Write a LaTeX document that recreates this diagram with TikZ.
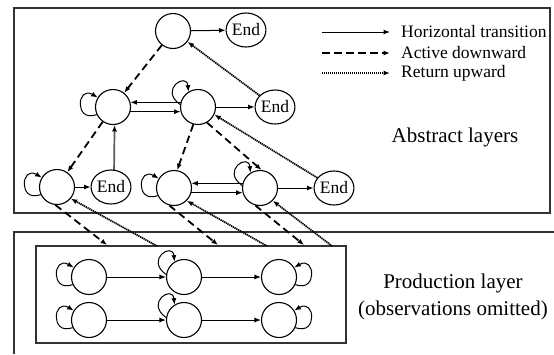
\documentclass[tikz,border=0pt]{standalone}
\usepackage{fontspec}
\setmainfont{Liberation Serif}
\usetikzlibrary{arrows.meta,shapes.geometric}

\begin{document}
\begin{tikzpicture}[
  x=1pt,y=1pt,
  state/.style={circle,draw,line width=1.1pt,minimum size=35pt,inner sep=0pt},
  endst/.style={ellipse,draw,line width=1.1pt,minimum width=38pt,minimum height=34pt,
                inner sep=0pt,font=\fontsize{17.5}{17.5}\selectfont},
  tip/.style={-{Latex[length=6.5pt,width=5pt]}},
  hor/.style={tip,line width=1pt},
  down/.style={tip,line width=1.8pt,dash pattern=on 7.5pt off 4.5pt},
  up/.style={tip,line width=1.7pt,dash pattern=on 1.3pt off 0.7pt},
  frame/.style={line width=1.2pt,draw=black!80},
  legtext/.style={anchor=west,inner sep=0pt,font=\fontsize{17.5}{20}\selectfont},
  biglabel/.style={align=center,inner sep=0pt,font=\fontsize{21}{27}\selectfont},
]
\useasboundingbox (0,0) rectangle (554,-354);

% layer frames
\draw[frame] (14,-8) rectangle (550,-213);
\draw[frame] (554,-232) -- (14,-232) -- (14,-354);
\draw[frame] (36,-246) rectangle (346,-343);

% legend
\coordinate (l1a) at (322,-32); \coordinate (l1b) at (390,-32);
\coordinate (l2a) at (322,-53); \coordinate (l2b) at (390,-53);
\coordinate (l3a) at (322,-73); \coordinate (l3b) at (390,-73);
\draw[hor] (l1a) -- (l1b);
\draw[down] (l2a) -- (l2b);
\draw[up] (l3a) -- (l3b);
\node[legtext] (t1) at (401,-32) {Horizontal transition};
\node[legtext] (t2) at (401,-53) {Active downward};
\node[legtext] (t3) at (401,-73) {Return upward};

\node[biglabel] (abs) at (455,-137) {Abstract layers};
\node[biglabel] (prod) at (453,-297) {Production layer\\(observations omitted)};

% abstract layers: top level
\node[state] (T) at (173,-31) {};
\node[endst] (ET) at (246,-30) {End};
% second level
\node[state] (A) at (113,-107) {};
\node[state] (B) at (198,-107) {};
\node[endst] (EB) at (275,-107) {End};
% third level
\node[state] (C) at (57,-187) {};
\node[endst] (EC) at (111,-187) {End};
\node[state] (D) at (174,-188) {};
\node[state] (F) at (260,-188) {};
\node[endst] (EF) at (334,-188) {End};

% production layer
\node[state] (P11) at (89,-277) {};
\node[state] (P12) at (184,-277) {};
\node[state] (P13) at (279,-277) {};
\node[state] (P21) at (89,-320) {};
\node[state] (P22) at (184,-320) {};
\node[state] (P23) at (279,-320) {};

% horizontal transitions
\draw[hor] (T) -- (ET);
\draw[hor] (B.165) -- (A.15);
\draw[hor] (A.-15) -- (B.195);
\draw[hor] (B) -- (EB);
\draw[hor] (C) -- (EC);
\draw[hor] (F.165) -- (D.15);
\draw[hor] (D.-15) -- (F.195);
\draw[hor] (F) -- (EF);
\draw[hor] (P11) -- (P12);
\draw[hor] (P12) -- (P13);
\draw[hor] (P21) -- (P22);
\draw[hor] (P22) -- (P23);

% self transitions
\foreach \n in {A,C,D,P11,P21}
  \draw[hor] (\n.205) .. controls +(200:24) and +(150:24) .. (\n.148);
\foreach \n in {B,F,P12,P22}
  \draw[hor] (\n.172) .. controls +(145:26) and +(95:20) .. (\n.122);
\foreach \n in {P13,P23}
  \draw[hor] (\n.-25) .. controls +(-20:24) and +(30:24) .. (\n.32);

% active downward
\draw[down] (T) -- (A);
\draw[down] (A) -- (C);
\draw[down] (B.-105) -- (D.80);
\draw[down] (B.-60) -- (F.85);

% return upward
\draw[up] (EB) -- (T);
\draw[up] (EC.80) -- (A.-85);
\draw[up] (EF) -- (B.-25);

% links between abstract and production layers
\coordinate (c1) at (107,-245); \coordinate (c2) at (157,-246);
\coordinate (d1) at (218,-245); \coordinate (d2) at (267,-246);
\coordinate (f1) at (304,-245); \coordinate (f2) at (332,-246);
\draw[down] (C.-95) -- (c1);
\draw[up] (c2) -- (C.-40);
\draw[down] (D.-105) -- (d1);
\draw[up] (d2) -- (D.-45);
\draw[down] (F.-105) -- (f1);
\draw[up] (f2) -- (F.-45);
\end{tikzpicture}
\end{document}
